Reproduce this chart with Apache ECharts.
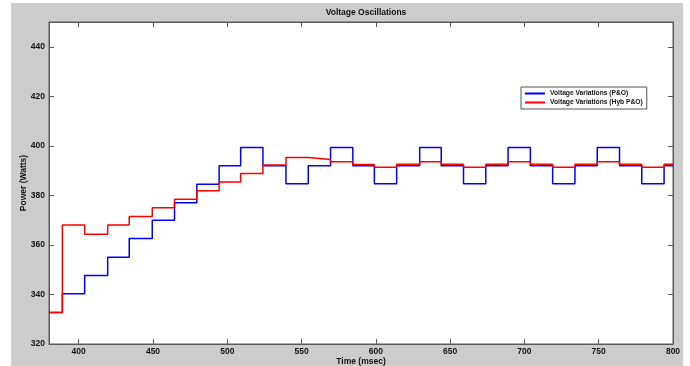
<!DOCTYPE html>
<html>
<head>
<meta charset="utf-8">
<script src="https://cdn.jsdelivr.net/npm/echarts@6/dist/echarts.min.js"></script>
<style>
html,body{margin:0;padding:0;background:#ffffff;}
#chart{width:690px;height:366px;}
</style>
</head>
<body>
<div id="chart"></div>
<script>
// Time (msec) at which each level starts
var stepTimes = [380, 389, 404, 419.5, 434, 449.5, 464.5, 479.5, 494.5, 509, 524, 539.5, 554.5, 569.5, 584.5, 599, 614, 629.5, 644, 659, 674, 689, 704, 719, 734, 749, 764, 779, 794];
var endTime = 800;
// Voltage Variations (P&O)
var pandoLevels = [332.7, 340.3, 347.7, 355, 362.6, 370, 377, 384.5, 392, 399.3, 392, 384.7, 392, 399.3, 392, 384.7, 392, 399.3, 392, 384.7, 392, 399.3, 392, 384.7, 392, 399.3, 392, 384.7, 392];
// Voltage Variations (Hyb P&O)
var hybLevels = [332.7, 368, 364.3, 368, 371.5, 375, 378.4, 381.9, 385.4, 388.8, 392.3, 395.3, 394.5, 393.6, 392.5, 391.4, 392.6, 393.6, 392.6, 391.4, 392.6, 393.6, 392.6, 391.4, 392.6, 393.6, 392.6, 391.4, 392.6];
var xTicks = [400, 450, 500, 550, 600, 650, 700, 750, 800];
var yTicks = [320, 340, 360, 380, 400, 420, 440];

function build(levels) {
  var pts = stepTimes.map(function (t, i) { return [t, levels[i]]; });
  pts.push([endTime, levels[levels.length - 1]]);
  return pts;
}

var chart = echarts.init(document.getElementById('chart'), null, {renderer: 'canvas'});
var font = 'Liberation Sans, Arial, sans-serif';
var axisCol = '#5a5a5a';
function xAxisCfg(pos, labels) {
  return {
    type: 'value', position: pos, min: 380, max: 800,
    name: labels ? 'Time (msec)' : '', nameLocation: 'middle', nameGap: 13, nameMoveOverlap: false,
    nameTextStyle: {fontFamily: font, fontWeight: 'bold', fontSize: 8.5, color: '#111'},
    axisLine: {show: true, lineStyle: {color: axisCol, width: 1}},
    axisTick: {show: true, inside: true, length: 5, customValues: xTicks, lineStyle: {color: axisCol}},
    axisLabel: {show: labels, customValues: xTicks, margin: 3, fontFamily: font, fontWeight: 'bold', fontSize: 8.5, color: '#111'},
    splitLine: {show: false}
  };
}
function yAxisCfg(pos, labels) {
  return {
    type: 'value', position: pos, min: 320, max: 450,
    name: labels ? 'Power (Watts)' : '', nameLocation: 'middle', nameGap: 21, nameMoveOverlap: false,
    nameTextStyle: {fontFamily: font, fontWeight: 'bold', fontSize: 8.5, color: '#111'},
    axisLine: {show: true, lineStyle: {color: axisCol, width: 1}},
    axisTick: {show: true, inside: true, length: 5, customValues: yTicks, lineStyle: {color: axisCol}},
    axisLabel: {show: labels, customValues: yTicks, margin: 4, fontFamily: font, fontWeight: 'bold', fontSize: 8.5, color: '#111'},
    splitLine: {show: false}
  };
}

chart.setOption({
  animation: false,
  backgroundColor: '#ffffff',
  graphic: [{type: 'rect', shape: {x: 11, y: 3, width: 672, height: 363}, style: {fill: '#cccccc'}, z: -10, silent: true}],
  title: {
    text: 'Voltage Oscillations', left: 361, top: 3, textAlign: 'center',
    textStyle: {fontFamily: font, fontWeight: 'bold', fontSize: 8.5, color: '#111'}
  },
  legend: {
    orient: 'vertical', left: 521, top: 87,
    backgroundColor: '#ffffff', borderColor: '#555', borderWidth: 1,
    padding: [3, 4, 3, 4], itemGap: 2, itemWidth: 20, itemHeight: 2,
    icon: 'rect',
    textStyle: {fontFamily: font, fontWeight: 'bold', fontSize: 6.7, color: '#111', padding: [0, 0, 0, 0]},
    data: ['Voltage Variations (P&O)', 'Voltage Variations (Hyb P&O)']
  },
  grid: {left: 49, right: 17, top: 22, bottom: 22, outerBoundsMode: 'none', containLabel: false,
         show: true, backgroundColor: '#ffffff', borderColor: axisCol, borderWidth: 1},
  xAxis: [xAxisCfg('bottom', true), xAxisCfg('top', false)],
  yAxis: [yAxisCfg('left', true), yAxisCfg('right', false)],
  series: [
    {name: 'Voltage Variations (P&O)', type: 'line', step: 'end', data: build(pandoLevels), showSymbol: false, symbol: 'none',
     lineStyle: {color: '#0000ff', width: 1.5}, itemStyle: {color: '#0000ff'}, z: 3},
    {name: 'Voltage Variations (Hyb P&O)', type: 'line', step: 'end', data: build(hybLevels), showSymbol: false, symbol: 'none',
     lineStyle: {color: '#ff0000', width: 1.5}, itemStyle: {color: '#ff0000'}, z: 4}
  ]
});
</script>
</body>
</html>
